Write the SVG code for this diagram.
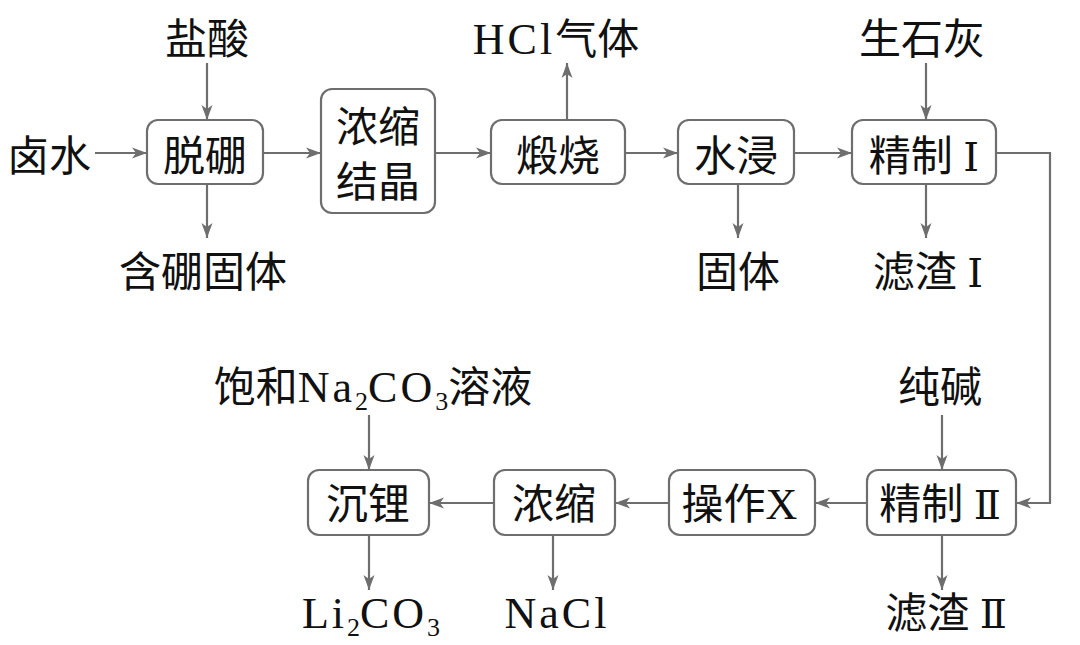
<svg xmlns="http://www.w3.org/2000/svg" width="1080" height="645" viewBox="0 0 1080 645">
<style>
.box{fill:#fff;stroke:#6e6e6e;stroke-width:2.2}
.t{font-family:"Liberation Serif","Noto Sans CJK SC",serif;font-size:42px;fill:#111;text-anchor:middle}
.l{letter-spacing:3px;font-size:44px}
.s{font-size:26px}
.r{font-family:"DejaVu Serif","Liberation Serif","Noto Sans CJK SC",serif;font-size:40px}
.c{fill:none;stroke:#6e6e6e;stroke-width:2.2}
</style>
<defs>
<marker id="ah" markerUnits="userSpaceOnUse" markerWidth="16" markerHeight="12" refX="15" refY="6" orient="auto">
<path d="M0,0.5 L15,6 L0,11.5 L4,6 z" fill="#6e6e6e"/>
</marker>
</defs>
<rect width="1080" height="645" fill="#fff"/>
<g id="connectors">
<line class="c" x1="95" y1="153" x2="147" y2="153" marker-end="url(#ah)"/>
<line class="c" x1="207" y1="63" x2="207" y2="120" marker-end="url(#ah)"/>
<line class="c" x1="207" y1="184" x2="207" y2="238" marker-end="url(#ah)"/>
<line class="c" x1="263" y1="153" x2="321" y2="153" marker-end="url(#ah)"/>
<line class="c" x1="435" y1="153" x2="491" y2="153" marker-end="url(#ah)"/>
<line class="c" x1="567" y1="120" x2="567" y2="63" marker-end="url(#ah)"/>
<line class="c" x1="625" y1="153" x2="678" y2="153" marker-end="url(#ah)"/>
<line class="c" x1="738" y1="184" x2="738" y2="238" marker-end="url(#ah)"/>
<line class="c" x1="794" y1="153" x2="852" y2="153" marker-end="url(#ah)"/>
<line class="c" x1="926" y1="63" x2="926" y2="120" marker-end="url(#ah)"/>
<line class="c" x1="926" y1="184" x2="926" y2="238" marker-end="url(#ah)"/>
<polyline class="c" points="996,153 1050,153 1050,503 1016,503" marker-end="url(#ah)"/>
<line class="c" x1="942" y1="415" x2="942" y2="470" marker-end="url(#ah)"/>
<line class="c" x1="942" y1="535" x2="942" y2="590" marker-end="url(#ah)"/>
<line class="c" x1="867" y1="503" x2="815" y2="503" marker-end="url(#ah)"/>
<line class="c" x1="669" y1="503" x2="615" y2="503" marker-end="url(#ah)"/>
<line class="c" x1="494" y1="503" x2="429" y2="503" marker-end="url(#ah)"/>
<line class="c" x1="369" y1="415" x2="369" y2="470" marker-end="url(#ah)"/>
<line class="c" x1="369" y1="535" x2="369" y2="590" marker-end="url(#ah)"/>
<line class="c" x1="553" y1="535" x2="553" y2="590" marker-end="url(#ah)"/>
</g>
<g id="labels">
<text class="t" x="49" y="171">卤水</text>
<text class="t" x="207" y="54">盐酸</text>
<text class="t" x="203" y="287">含硼固体</text>
<text class="t" x="556" y="54"><tspan class="l">HCl</tspan>气体</text>
<text class="t" x="738" y="287">固体</text>
<text class="t" x="922" y="54">生石灰</text>
<text class="t" x="928" y="287">滤渣 <tspan class="r">Ⅰ</tspan></text>
<text class="t" x="940" y="402">纯碱</text>
<text class="t" x="946" y="628">滤渣 <tspan class="r">Ⅱ</tspan></text>
<text class="t" x="373" y="402">饱和<tspan class="l">Na</tspan><tspan class="s" dy="8">2</tspan><tspan dy="-8" class="l">CO</tspan><tspan class="s" dy="8">3</tspan><tspan dy="-8">溶液</tspan></text>
<text class="t" x="371" y="628"><tspan class="l">Li</tspan><tspan class="s" dy="8">2</tspan><tspan dy="-8" class="l">CO</tspan><tspan class="s" dy="8">3</tspan></text>
<text class="t l" x="557" y="628">NaCl</text>
</g>
<g id="n-tuopeng"><rect class="box" x="147" y="120" width="116" height="64" rx="11"/><text class="t" x="205" y="171">脱硼</text></g>
<g id="n-nongsuojiejing"><rect class="box" x="321" y="89" width="114" height="124" rx="11"/><text class="t" x="378" y="142">浓缩</text><text class="t" x="378" y="197">结晶</text></g>
<g id="n-duanshao"><rect class="box" x="491" y="120" width="134" height="64" rx="11"/><text class="t" x="558" y="171">煅烧</text></g>
<g id="n-shuijin"><rect class="box" x="678" y="120" width="116" height="64" rx="11"/><text class="t" x="736" y="171">水浸</text></g>
<g id="n-jingzhi1"><rect class="box" x="852" y="120" width="144" height="64" rx="11"/><text class="t" x="924" y="171">精制 <tspan class="r">Ⅰ</tspan></text></g>
<g id="n-jingzhi2"><rect class="box" x="867" y="470" width="149" height="65" rx="11"/><text class="t" x="940" y="519">精制 <tspan class="r">Ⅱ</tspan></text></g>
<g id="n-caozuox"><rect class="box" x="669" y="470" width="146" height="65" rx="11"/><text class="t" x="741" y="519">操作<tspan class="l">X</tspan></text></g>
<g id="n-nongsuo"><rect class="box" x="494" y="470" width="121" height="65" rx="11"/><text class="t" x="554" y="519">浓缩</text></g>
<g id="n-chenli"><rect class="box" x="308" y="470" width="121" height="65" rx="11"/><text class="t" x="368" y="519">沉锂</text></g>
</svg>
